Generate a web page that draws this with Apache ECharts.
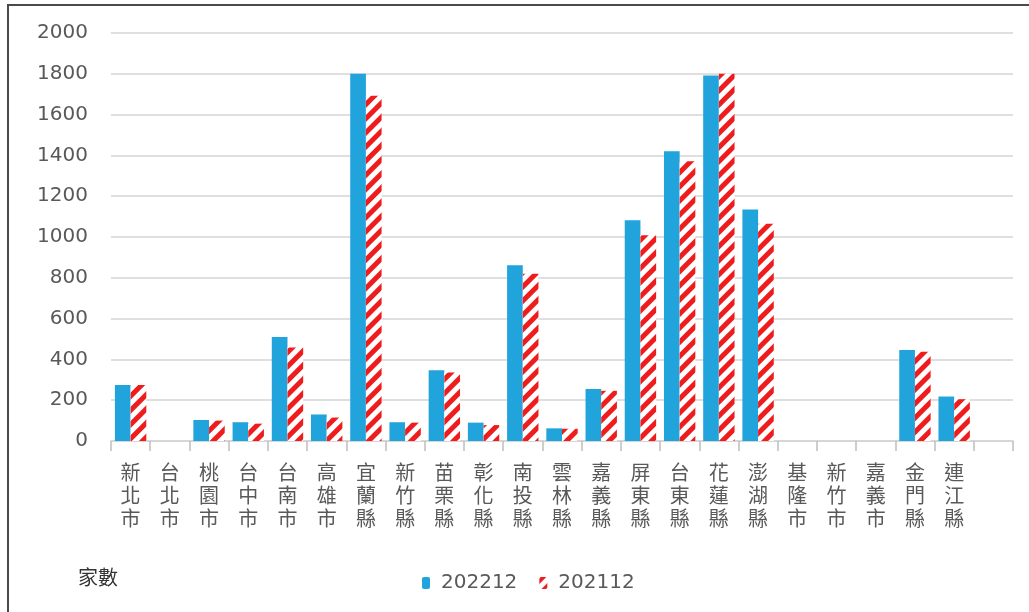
<!DOCTYPE html>
<html>
<head>
<meta charset="utf-8">
<script src="https://cdn.jsdelivr.net/npm/echarts@6/dist/echarts.min.js"></script>
<style>
  html, body { margin: 0; padding: 0; background: #fff; }
  #chart { width: 1029px; height: 612px; }
</style>
</head>
<body>
<div id="chart"></div>
<script>
// 縣市 (最後一格為空白)
var counties = ['新北市', '台北市', '桃園市', '台中市', '台南市', '高雄市', '宜蘭縣', '新竹縣',
  '苗栗縣', '彰化縣', '南投縣', '雲林縣', '嘉義縣', '屏東縣', '台東縣', '花蓮縣', '澎湖縣',
  '基隆市', '新竹市', '嘉義市', '金門縣', '連江縣', ''];
var v202212 = [275, 0, 103, 92, 510, 130, 1800, 92, 347, 90, 862, 62, 255, 1082, 1420, 1792, 1135, 0, 0, 0, 446, 218, null];
var v202112 = [274, 0, 100, 85, 458, 115, 1693, 90, 336, 78, 820, 60, 246, 1008, 1371, 1800, 1065, 0, 0, 0, 437, 205, null];
var yMin = 0, yMax = 2000, yStep = 200;

var myChart = echarts.init(document.getElementById('chart'));
var grayText = '#595959';
var option = {
  backgroundColor: '#fff',
  animation: false,
  graphic: [
    {
      type: 'rect',
      shape: { x: 8, y: 5, width: 1200, height: 800 },
      style: { fill: 'none', stroke: '#4a4a4a', lineWidth: 2 },
      silent: true
    },
    {
      type: 'text',
      left: 78,
      top: 567,
      style: { text: '家數', fontSize: 20, fill: '#333', fontFamily: 'Noto Sans CJK TC' }
    }
  ],
  grid: { left: 111, right: 16, top: 33, bottom: 171 },
  legend: {
    left: 422,
    top: 573,
    padding: 0,
    itemWidth: 8,
    itemHeight: 12,
    itemGap: 22,
    textStyle: { fontSize: 20, color: grayText, fontFamily: 'DejaVu Sans', padding: [2, 0, 0, 6] },
    data: ['202212', '202112']
  },
  xAxis: {
    type: 'category',
    data: counties,
    axisLine: { lineStyle: { color: '#d4d4d4', width: 1.5 } },
    axisTick: { show: true, length: 10, lineStyle: { color: '#bfbfbf', width: 1.5 } },
    axisLabel: {
      interval: 0,
      margin: 20,
      fontSize: 20,
      lineHeight: 23,
      color: grayText,
      fontFamily: 'Noto Sans CJK TC',
      verticalAlign: 'top',
      formatter: function (name) { return name.split('').join('\n'); }
    }
  },
  yAxis: {
    type: 'value',
    min: yMin,
    max: yMax,
    interval: yStep,
    axisLine: { show: false },
    axisTick: { show: false },
    splitLine: { lineStyle: { color: '#d4d4d4', width: 1.5 } },
    axisLabel: {
      fontSize: 20, color: grayText, fontFamily: 'DejaVu Sans', margin: 23,
      formatter: function (v) { return String(v); }
    }
  },
  series: [
    {
      name: '202212',
      type: 'bar',
      data: v202212,
      barGap: '0%',
      barCategoryGap: '20%',
      itemStyle: { color: '#21a3db' }
    },
    {
      name: '202112',
      type: 'bar',
      data: v202112,
      itemStyle: {
        color: '#ffffff',
        decal: {
          symbol: 'rect',
          color: '#ee1c1c',
          dashArrayX: [1, 0],
          dashArrayY: [5, 5],
          rotation: -Math.PI / 4
        }
      }
    }
  ]
};
myChart.setOption(option);
</script>
</body>
</html>
